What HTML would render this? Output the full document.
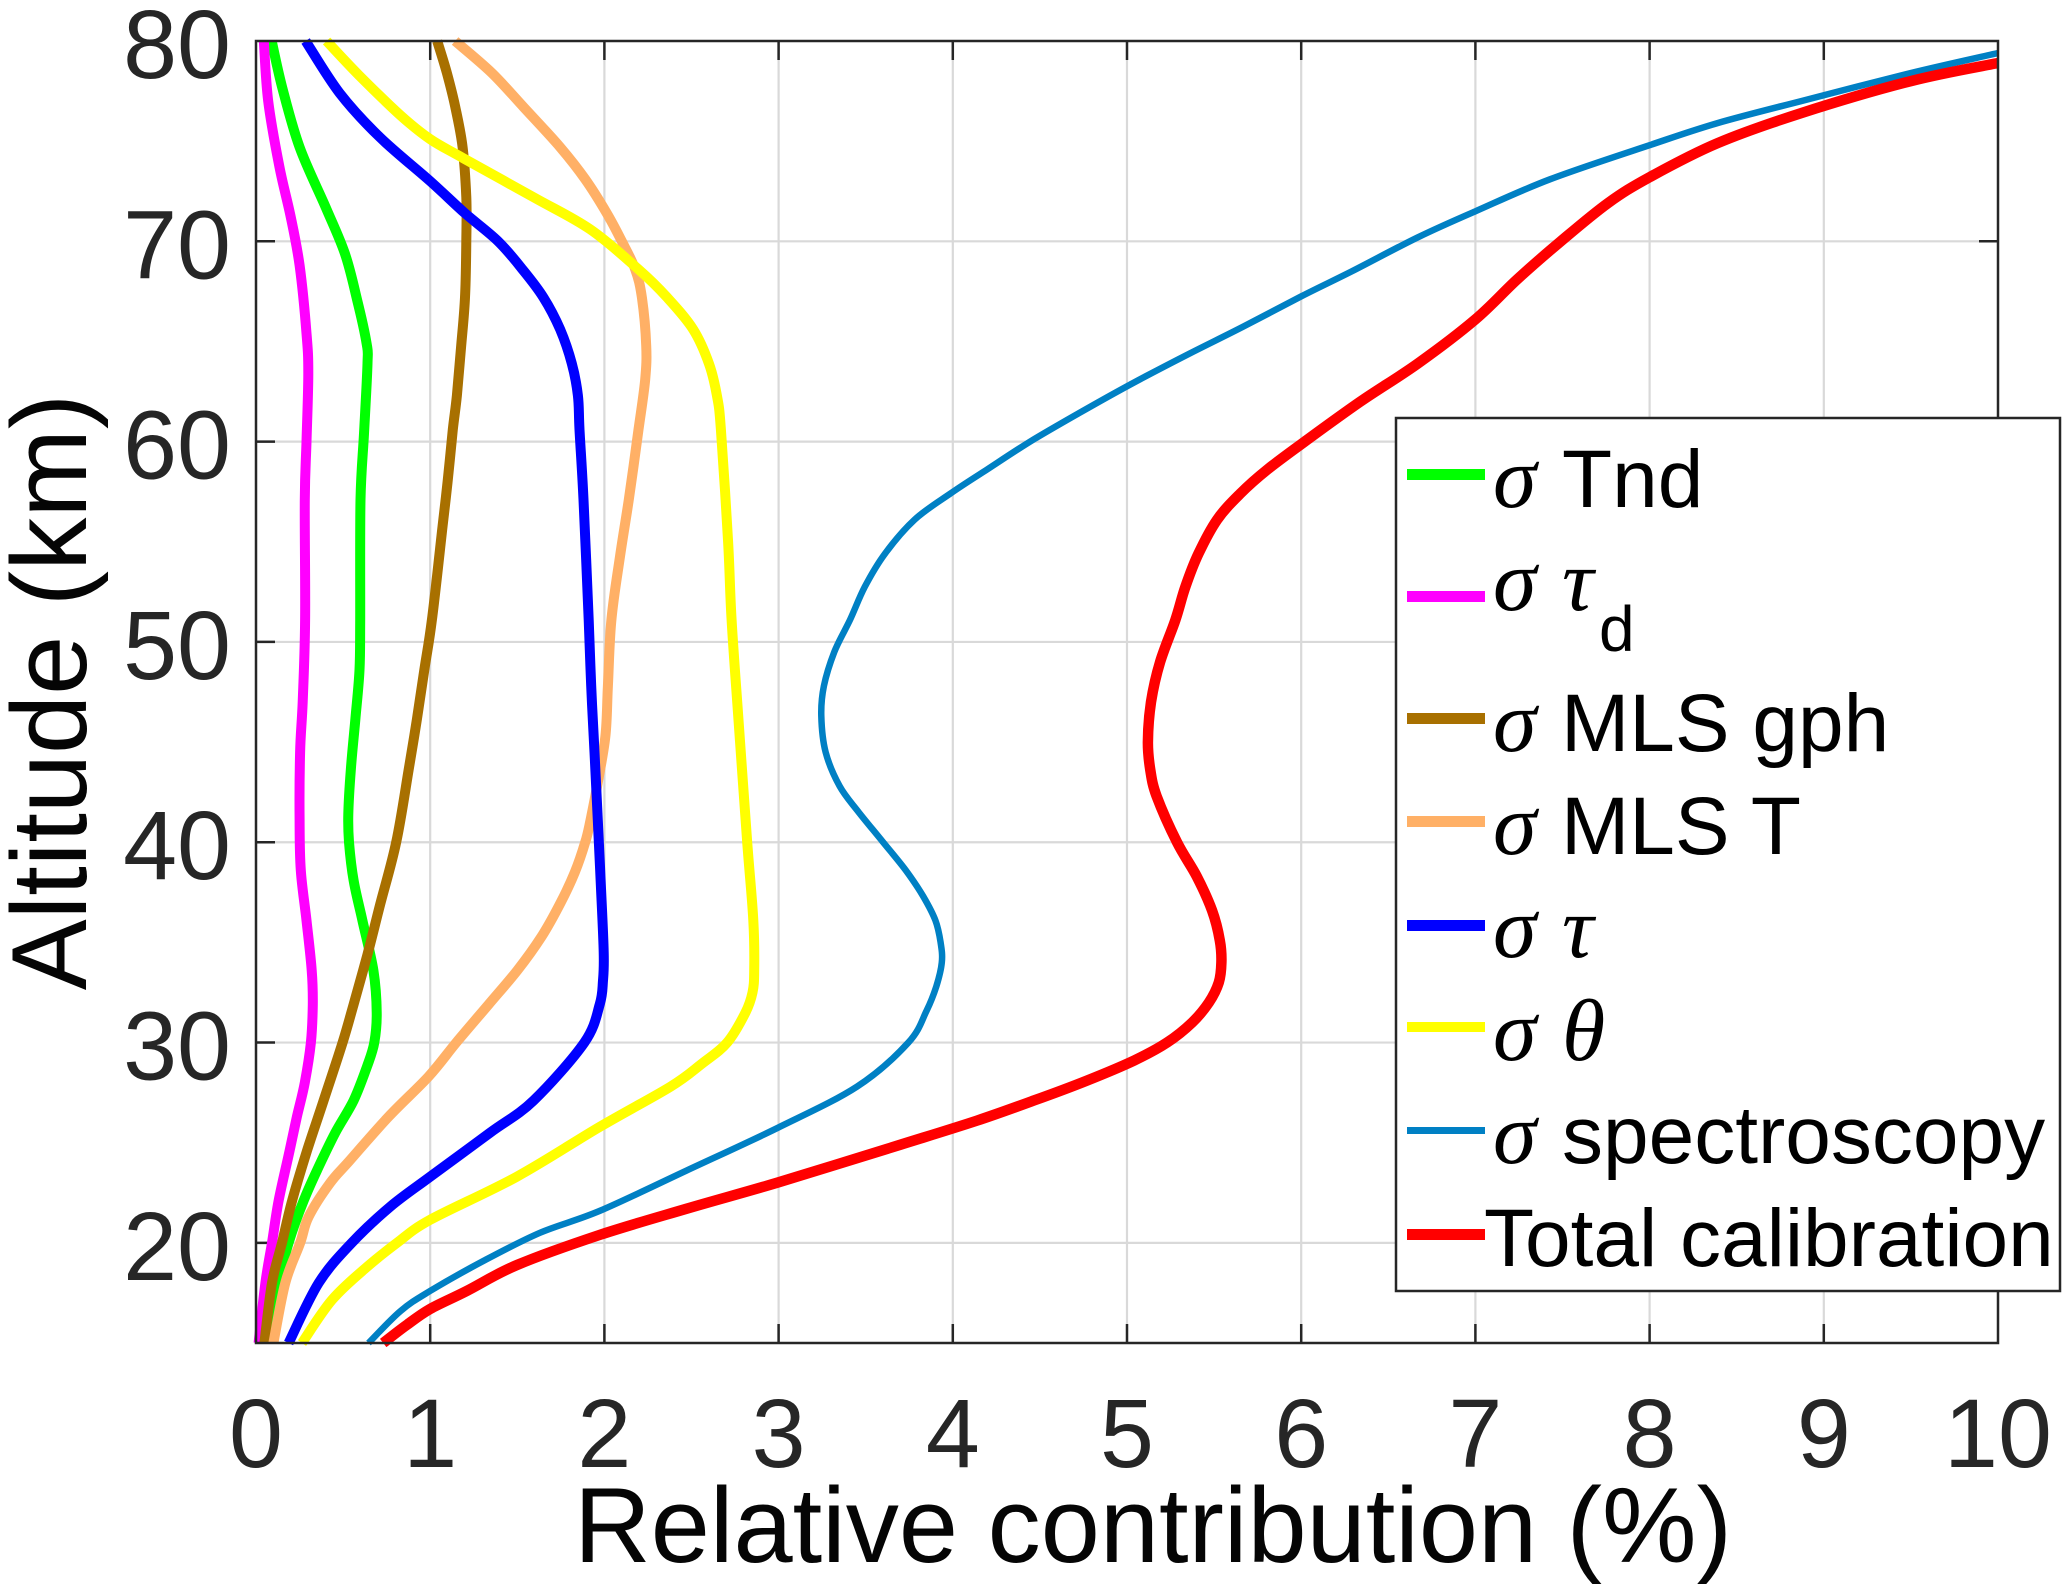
<!DOCTYPE html>
<html lang="en">
<head>
<meta charset="utf-8">
<title>Relative contribution by altitude</title>
<style>
html,body{margin:0;padding:0;background:#fff;}
svg{display:block;}
text{font-family:"Liberation Sans",sans-serif;}
.tick-label{font-size:97px;fill:#262626;}
.axis-title{font-size:106.3px;fill:#050505;}
.legend-text{font-size:82px;fill:#000;}
.greek{font-family:"Liberation Serif",serif;font-style:italic;font-size:88px;}
</style>
</head>
<body>
<svg id="chart" xmlns="http://www.w3.org/2000/svg" width="2067" height="1594" viewBox="0 0 2067 1594">
  <rect x="0" y="0" width="2067" height="1594" fill="#fff"/>
  <g id="grid"></g>
  <g id="ticks"></g>
  <g id="tick-labels"></g>
  <g id="series"></g>
  <rect id="frame" fill="none" stroke="#262626" stroke-width="2.5"/>
  <text class="axis-title" x="1153" y="1562" text-anchor="middle">Relative contribution (%)</text>
  <text class="axis-title" transform="translate(86,692) rotate(-90)" text-anchor="middle">Altitude (km)</text>
  <g>
    <rect x="1396" y="418" width="664" height="873" fill="#fff" stroke="#262626" stroke-width="2.5"/>
    <g>
      <rect x="1407" y="469" width="78" height="11" fill="#00ff00"/>
      <text class="legend-text" x="1493" y="507"><tspan class="greek">σ</tspan><tspan x="1562">Tnd</tspan></text>
    </g>
    <g>
      <rect x="1407" y="591" width="78" height="11" fill="#ff00ff"/>
      <text class="legend-text" x="1493" y="610"><tspan class="greek">σ</tspan><tspan class="greek" x="1562">τ</tspan></text>
      <text class="legend-text" x="1599" y="651" style="font-size:64px">d</text>
    </g>
    <g>
      <rect x="1407" y="713" width="78" height="11" fill="#a87000"/>
      <text class="legend-text" x="1493" y="751"><tspan class="greek">σ</tspan><tspan x="1561">MLS gph</tspan></text>
    </g>
    <g>
      <rect x="1407" y="816" width="78" height="11" fill="#ffb066"/>
      <text class="legend-text" x="1493" y="854"><tspan class="greek">σ</tspan><tspan x="1561">MLS T</tspan></text>
    </g>
    <g>
      <rect x="1407" y="920" width="78" height="11" fill="#0000ff"/>
      <text class="legend-text" x="1493" y="957"><tspan class="greek">σ</tspan><tspan class="greek" x="1562">τ</tspan></text>
    </g>
    <g>
      <rect x="1407" y="1022" width="78" height="10" fill="#ffff00"/>
      <text class="legend-text" x="1493" y="1060"><tspan class="greek">σ</tspan><tspan class="greek" x="1562">θ</tspan></text>
    </g>
    <g>
      <rect x="1407" y="1127" width="78" height="7" fill="#0080c4"/>
      <text class="legend-text" x="1493" y="1163"><tspan class="greek">σ</tspan><tspan x="1562">spectroscopy</tspan></text>
    </g>
    <g>
      <rect x="1407" y="1229" width="78" height="11" fill="#ff0000"/>
      <text class="legend-text" x="1484" y="1266">Total calibration</text>
    </g>
  </g>
</svg>
<script>
const xTickValues = [0,1,2,3,4,5,6,7,8,9,10];
const yTickValues = [20,30,40,50,60,70,80];
const yTickLabelValues = [80,70,60,50,40,30,20];

const tndAltitude = [15,18,20,22.1,23.8,25.5,27.1,28.8,30,31.5,33.6,36.1,38.1,40,41.4,43.6,46.1,48.6,51.1,57.1,60.4,63.9,64.9,67.1,69.4,71.7,74.7,77.7,80];
const tndContribution = [0.073,0.13,0.187,0.273,0.36,0.455,0.56,0.637,0.679,0.693,0.674,0.611,0.56,0.534,0.53,0.544,0.57,0.594,0.598,0.6,0.62,0.64,0.635,0.58,0.51,0.4,0.25,0.15,0.09];

const tauDAltitude = [15,18,20,22.1,24.6,26.3,28,30,31.9,33.6,36.1,38.6,41.1,44.5,47,51.1,57.1,60,63.4,65.4,68.8,71.2,73.7,77,80];
const tauDContribution = [0.015,0.054,0.092,0.13,0.193,0.235,0.28,0.315,0.326,0.32,0.29,0.257,0.25,0.253,0.268,0.282,0.28,0.29,0.3,0.29,0.25,0.2,0.135,0.07,0.045];

const mlsGphAltitude = [15,18,20,22.1,24.6,27.1,30,31.9,34.4,36.9,40,43.6,46.1,48.6,51.1,55.7,58,60.6,62.3,64.8,67.2,70,72.2,74.7,76.7,78.4,80];
const mlsGphContribution = [0.048,0.092,0.149,0.207,0.293,0.388,0.497,0.56,0.64,0.713,0.805,0.876,0.923,0.966,1.01,1.07,1.1,1.13,1.153,1.178,1.2,1.207,1.207,1.186,1.144,1.096,1.04];

const mlsTAltitude = [15,18,20,21.3,23,24.05,26.3,28.3,30,31.9,33.6,35.3,37,38.5,40,41.1,42.8,45.3,47.8,51.1,54.3,57.1,60.6,63.1,64.8,67.2,68.6,70,71.4,73.1,74.7,76.7,78.4,80];
const mlsTContribution = [0.1,0.168,0.254,0.302,0.426,0.532,0.761,0.99,1.15,1.335,1.5,1.64,1.75,1.83,1.89,1.92,1.958,2.006,2.02,2.04,2.09,2.14,2.196,2.234,2.24,2.215,2.177,2.1,2.014,1.89,1.746,1.536,1.354,1.143];

const tauAltitude = [15,18,20,21.8,23.3,25.5,27.1,30,31.9,33.1,34.5,37.8,41.1,44.5,47.8,51.1,57.1,60.6,62.3,63.9,65.6,67.2,68.6,70,71.4,73,75.2,77.4,80];
const tauContribution = [0.187,0.36,0.55,0.77,1,1.344,1.593,1.885,1.973,1.992,1.996,1.98,1.962,1.943,1.924,1.91,1.88,1.857,1.848,1.813,1.746,1.65,1.53,1.39,1.2,1,0.71,0.48,0.285];

const thetaAltitude = [15,17.15,18.8,20,21.15,23.3,25.8,27.8,28.95,30,31.5,32.5,33.6,36.1,40,46.1,51.1,55,60.6,62.3,63.9,65.6,67.2,68.6,70.6,72.2,74.15,75.1,76.3,78.3,80];
const thetaContribution = [0.264,0.436,0.637,0.81,1,1.497,1.975,2.38,2.56,2.705,2.81,2.85,2.86,2.855,2.82,2.77,2.73,2.71,2.669,2.646,2.6,2.51,2.36,2.196,1.918,1.593,1.19,1,0.828,0.59,0.405];

const spectroscopyAltitude = [15,16.6,17.6,19.1,20.5,21.6,23.6,25.7,27.8,30,31.6,32.8,34,35,36.1,37.3,38.6,40,41.5,42.8,44.5,46.3,47.8,49.5,51.1,52.75,54.4,56.1,57.4,58.6,60,61.4,62.9,64.4,65.75,67.25,68.5,70.2,71.5,73.1,74.8,75.9,77,78.4,79.4];
const spectroscopyContribution = [0.646,0.83,1,1.306,1.63,1.975,2.47,2.985,3.45,3.745,3.85,3.905,3.937,3.93,3.9,3.83,3.73,3.6,3.46,3.35,3.27,3.245,3.26,3.32,3.41,3.495,3.61,3.78,3.985,4.195,4.444,4.72,5.03,5.36,5.67,6,6.29,6.67,7,7.43,8,8.39,8.87,9.5,10];

const totalAltitude = [15,15.9,16.7,17.6,18.9,20.4,21.7,23,24.9,26.1,27.1,28.1,29.1,30,31,32,33,34,35.1,36.6,38.3,40,42.3,43.6,45,47,49,51.1,52.75,54.4,56.1,57.4,58.6,60,62,63.9,66.1,68.1,70,71.9,73.2,74.9,76.4,78,78.9];
const totalContribution = [0.73,0.865,1,1.21,1.5,1.975,2.47,2.99,3.7,4.138,4.464,4.77,5.04,5.23,5.374,5.47,5.527,5.542,5.533,5.488,5.4,5.287,5.17,5.134,5.12,5.138,5.19,5.278,5.335,5.41,5.517,5.65,5.805,6.02,6.34,6.67,7,7.24,7.49,7.76,8,8.39,8.87,9.5,10];

const NS = 'http://www.w3.org/2000/svg';
const plot = {left: 256, right: 1998, top: 41, bottom: 1343};
function xScale(v){ return plot.left + (v - 0) / (10 - 0) * (plot.right - plot.left); }
function yScale(a){ return plot.bottom - (a - 15) / (80 - 15) * (plot.bottom - plot.top); }
function make(tag, attrs, parent){
  const el = document.createElementNS(NS, tag);
  for (const k in attrs) el.setAttribute(k, attrs[k]);
  parent.appendChild(el);
  return el;
}
const frame = document.getElementById('frame');
frame.setAttribute('x', plot.left);
frame.setAttribute('y', plot.top);
frame.setAttribute('width', plot.right - plot.left);
frame.setAttribute('height', plot.bottom - plot.top);

const gridG = document.getElementById('grid');
const ticksG = document.getElementById('ticks');
const labelsG = document.getElementById('tick-labels');
const tickLen = 19;

xTickValues.forEach(function(v){
  const x = xScale(v);
  if (v > 0 && v < 10) {
    const g = make('line', {x1:x, x2:x, y1:plot.top, y2:plot.bottom, stroke:'#d9d9d9', 'stroke-width':2.2}, gridG);
    
    
    const t1 = make('line', {x1:x, x2:x, y1:plot.bottom, y2:plot.bottom - tickLen, stroke:'#262626', 'stroke-width':2.5}, ticksG);
    
    
    const t2 = make('line', {x1:x, x2:x, y1:plot.top, y2:plot.top + tickLen, stroke:'#262626', 'stroke-width':2.5}, ticksG);
    
    
  }
  const lab = make('text', {x:x, y:1467, 'text-anchor':'middle', class:'tick-label'}, labelsG);
  
  
  lab.textContent = String(v);
});

yTickValues.forEach(function(a){
  const y = yScale(a);
  if (a < 80) {
    const g = make('line', {x1:plot.left, x2:plot.right, y1:y, y2:y, stroke:'#d9d9d9', 'stroke-width':2.2}, gridG);
    
    
    const t1 = make('line', {x1:plot.left, x2:plot.left + tickLen, y1:y, y2:y, stroke:'#262626', 'stroke-width':2.5}, ticksG);
    
    
    const t2 = make('line', {x1:plot.right, x2:plot.right - tickLen, y1:y, y2:y, stroke:'#262626', 'stroke-width':2.5}, ticksG);
    
    
  }
});

yTickLabelValues.forEach(function(a){
  const lab = make('text', {x:231, y:yScale(a) + 37, 'text-anchor':'end', class:'tick-label'}, labelsG);
  
  
  lab.textContent = String(a);
});

function smoothPath(altitudes, values){
  const p = values.map(function(v, i){ return [xScale(v), yScale(altitudes[i])]; });
  let d = 'M' + p[0][0].toFixed(1) + ' ' + p[0][1].toFixed(1);
  for (let i = 0; i < p.length - 1; i++) {
    const p0 = p[Math.max(i - 1, 0)], p1 = p[i], p2 = p[i + 1], p3 = p[Math.min(i + 2, p.length - 1)];
    const c1x = p1[0] + (p2[0] - p0[0]) / 6, c1y = p1[1] + (p2[1] - p0[1]) / 6;
    const c2x = p2[0] - (p3[0] - p1[0]) / 6, c2y = p2[1] - (p3[1] - p1[1]) / 6;
    d += 'C' + c1x.toFixed(1) + ' ' + c1y.toFixed(1) + ' ' + c2x.toFixed(1) + ' ' + c2y.toFixed(1) + ' ' + p2[0].toFixed(1) + ' ' + p2[1].toFixed(1);
  }
  return d;
}

const seriesG = document.getElementById('series');
function drawSeries(name, altitudes, values, color, width){
  const path = make('path', {d:smoothPath(altitudes, values), fill:'none', stroke:color, 'stroke-width':width, 'stroke-linejoin':'round'}, seriesG);
  
  
}
drawSeries('line-tnd', tndAltitude, tndContribution, '#00ff00', 10);
drawSeries('line-tau-d', tauDAltitude, tauDContribution, '#ff00ff', 10);
drawSeries('line-mls-gph', mlsGphAltitude, mlsGphContribution, '#a87000', 10);
drawSeries('line-mls-t', mlsTAltitude, mlsTContribution, '#ffb066', 10);
drawSeries('line-tau', tauAltitude, tauContribution, '#0000ff', 10);
drawSeries('line-theta', thetaAltitude, thetaContribution, '#ffff00', 10);
drawSeries('line-spectroscopy', spectroscopyAltitude, spectroscopyContribution, '#0080c4', 6.5);
drawSeries('line-total-calibration', totalAltitude, totalContribution, '#ff0000', 10.5);
</script>
</body>
</html>
